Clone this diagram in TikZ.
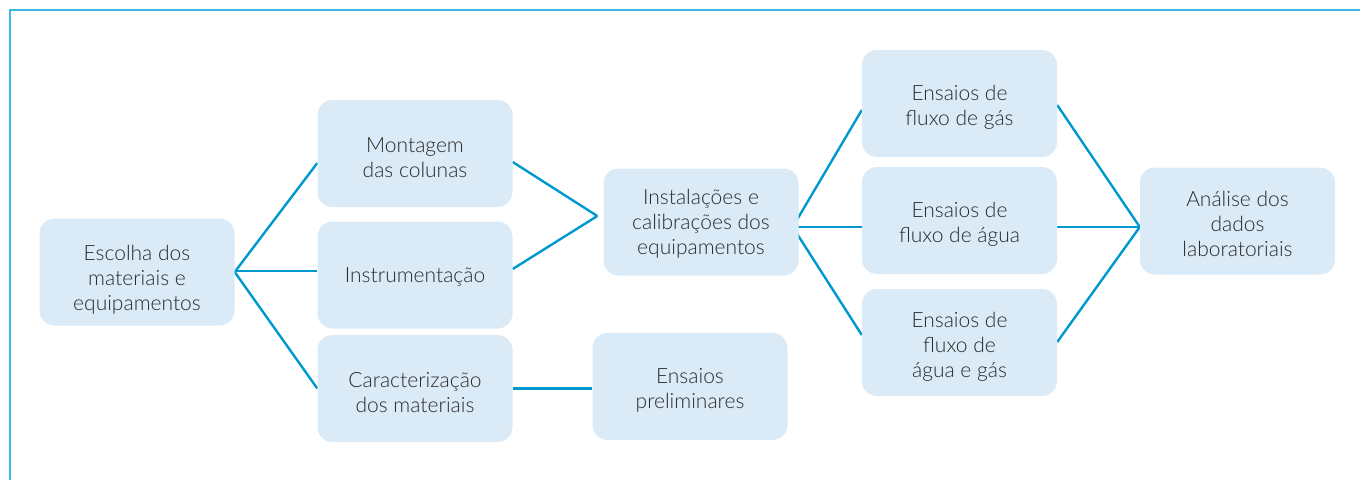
\documentclass[tikz,border=0pt]{standalone}
\usepackage{fontspec}
\setmainfont{Lato}[UprightFont=* Light]
\usetikzlibrary{calc,backgrounds}
\definecolor{boxfill}{HTML}{DAEAF6}
\definecolor{linecol}{HTML}{0099CF}
\definecolor{bordercol}{HTML}{3DB7E4}
\definecolor{textcol}{HTML}{2A2A2A}
\tikzset{
  stepbox/.style={fill=boxfill, rounded corners=15pt, minimum width=195pt, minimum height=107pt, inner sep=0pt},
  steptext/.style={align=center, text=textcol, font=\fontsize{21}{25}\selectfont, inner sep=0pt, yshift=-4pt},
  conn/.style={draw=linecol, line width=2.4pt},
  frame/.style={draw=bordercol, line width=1.6pt}
}
\begin{document}
\begin{tikzpicture}[x=1pt,y=-1pt]
\useasboundingbox (0,0) rectangle (1360,480);
\draw[frame] (10,480) -- (10,10) -- (1360,10);

\node[stepbox, label={[steptext, yshift=-4pt]center:Escolha dos\\materiais e\\equipamentos}] (esc) at (137,272) {};
\node[stepbox, label={[steptext]center:Montagem\\das colunas}] (mon) at (415,153.5) {};
\node[stepbox, label={[steptext, yshift=2pt]center:Instrumentação}] (ins) at (415,275) {};
\node[stepbox, label={[steptext]center:Caracterização\\dos materiais}] (car) at (415,388.5) {};
\node[stepbox, label={[steptext]center:Ensaios\\preliminares}] (pre) at (690,386.5) {};
\node[stepbox, label={[steptext, yshift=2pt]center:Instalações e\\calibrações dos\\equipamentos}] (inst) at (701,222) {};
\node[stepbox, label={[steptext]center:Ensaios de\\fluxo de gás}] (gas) at (959.5,103.5) {};
\node[stepbox, label={[steptext]center:Ensaios de\\fluxo de água}] (agua) at (959.5,220.5) {};
\node[stepbox, label={[steptext]center:Ensaios de\\fluxo de\\água e gás}] (ag) at (959.5,342.5) {};
\node[stepbox, label={[steptext, yshift=1pt]center:Análise dos\\dados\\laboratoriais}] (ana) at (1237.5,221) {};

\coordinate (apexL) at ($(inst.west)+(-6,-6)$);
\coordinate (apexR) at ($(inst.east)+(-6,5)$);
\coordinate (apexA) at ($(ana.west)+(0,6)$);

\begin{scope}[on background layer]
\draw[conn] (esc.east) -- ($(mon.west)+(0,9.5)$);
\draw[conn] ([yshift=1pt]esc.east) -- ([yshift=1pt]esc.east -| ins.west);
\draw[conn] (esc.east) -- (car.west);
\draw[conn] ($(mon.east)+(0,8.5)$) -- (apexL);
\draw[conn] ($(ins.east)+(0,-6)$) -- (apexL);
\draw[conn] (car.east) -- (car.east -| pre.west);
\draw[conn] (apexR) -- ($(gas.west)+(0,6.5)$);
\draw[conn] (apexR) -- (apexR -| agua.west);
\draw[conn] (apexR) -- ($(ag.west)+(0,-7.5)$);
\draw[conn] ($(gas.east)+(0,1.5)$) -- (apexA);
\draw[conn] (apexA -| agua.east) -- (apexA);
\draw[conn] ($(ag.east)+(0,-0.5)$) -- (apexA);
\end{scope}
\end{tikzpicture}
\end{document}
